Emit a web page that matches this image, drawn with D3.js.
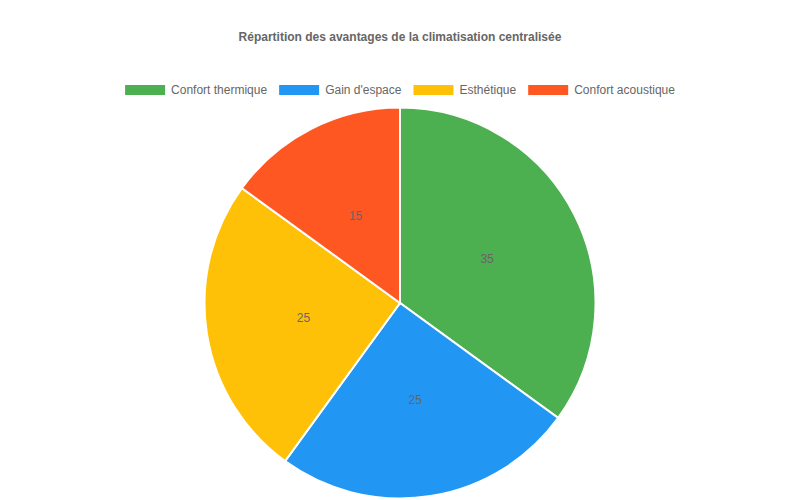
<!DOCTYPE html>
<html>
<head>
<meta charset="utf-8">
<script src="https://cdn.jsdelivr.net/npm/d3@7"></script>
<style>
  body { margin: 0; background: #fff; }
  text { font-family: "Liberation Sans", Arial, Helvetica, sans-serif; }
</style>
</head>
<body>
<div id="chart"></div>
<script>
// data
const categories = ["Confort thermique", "Gain d'espace", "Esthétique", "Confort acoustique"];
const values = [35, 25, 25, 15];
const colors = ["#4CAF50", "#2196F3", "#FFC107", "#FF5722"];
const title = "Répartition des avantages de la climatisation centralisée";

const width = 800, height = 500;
const cx = 400, cy = 303, radius = 195.5;

let svg = d3.select("#chart")
    .append("svg")
    .attr("width", width)
    .attr("height", height)

svg.append("text")
    .attr("x", width / 2)
    .attr("y", 41)
    .attr("text-anchor", "middle")
    .attr("font-size", 12)
    .attr("font-weight", "bold")
    .attr("fill", "#666")
    .text(title)

// legend, centred as a whole row
const legend = svg.append("g").attr("class", "legend")
const boxW = 40, boxH = 10, gap = 12;
let items = legend.selectAll("g")
    .data(categories)
    .join("g")

items.append("rect")
    .attr("width", boxW)
    .attr("height", boxH)
    .attr("y", -5)
    .attr("fill", (d, i) => colors[i])

items.append("text")
    .attr("x", boxW + 6)
    .attr("dy", "0.35em")
    .attr("font-size", 12)
    .attr("fill", "#666")
    .text(d => d)

let widths = [];
items.each(function () {
    widths.push(boxW + 6 + d3.select(this).select("text").node().getComputedTextLength());
});
let total = d3.sum(widths) + gap * (widths.length - 1);
let xpos = (width - total) / 2;
items.attr("transform", function (d, i) {
    let x = xpos;
    xpos += widths[i] + gap;
    return "translate(" + x + ",90)";
});

// pie
const pie = d3.pie().sort(null).value(d => d)
const arc = d3.arc().innerRadius(0).outerRadius(radius)
const labelArc = d3.arc().innerRadius(radius / 2).outerRadius(radius / 2)

let g = svg.append("g").attr("transform", "translate(" + cx + "," + cy + ")")

g.selectAll("path")
    .data(pie(values))
    .join("path")
    .attr("d", arc)
    .attr("fill", (d, i) => colors[i])
    .attr("stroke", "#fff")
    .attr("stroke-width", 2)

g.selectAll("text.lbl")
    .data(pie(values))
    .join("text")
    .attr("class", "lbl")
    .attr("transform", d => "translate(" + labelArc.centroid(d) + ")")
    .attr("text-anchor", "middle")
    .attr("dy", "0.35em")
    .attr("font-size", 12)
    .attr("fill", "#666")
    .text(d => d.data)
</script>
</body>
</html>
